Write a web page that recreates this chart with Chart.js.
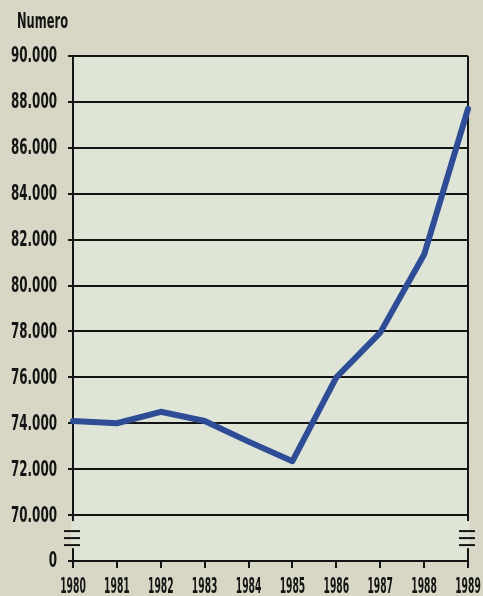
<!DOCTYPE html>
<html>
<head>
<meta charset="utf-8">
<script src="https://cdn.jsdelivr.net/npm/chart.js@4"></script>
<style>
  html, body { margin: 0; padding: 0; background: #d8d7c6; }
  #wrap { position: relative; width: 483px; height: 596px; }
</style>
</head>
<body>
<div id="wrap"><canvas id="chart"></canvas></div>
<script>
const years = ["1980", "1981", "1982", "1983", "1984", "1985", "1986", "1987", "1988", "1989"];
const values = [74100, 74000, 74500, 74100, 73200, 72350, 76000, 77950, 81350, 87700];
const yTicks = [68000, 70000, 72000, 74000, 76000, 78000, 80000, 82000, 84000, 86000, 88000, 90000];
const yTitle = "Numero";

const PLOT_BG = "#dee5d6";
const INK = "#141414";
const FONT = "bold 21px 'DejaVu Sans Condensed', 'Liberation Sans', sans-serif";

function fmt(v) {
  if (v === yTicks[0]) return "0";
  const k = Math.floor(v / 1000);
  return k + "." + String(v % 1000).padStart(3, "0");
}

// squeeze text horizontally so it looks like the narrow print face
function narrowText(ctx, text, x, y, align, squeeze) {
  ctx.save();
  ctx.translate(x, y);
  ctx.scale(squeeze, 1);
  ctx.textAlign = align;
  ctx.fillText(text, 0, 0);
  ctx.restore();
}

const plotBg = {
  id: "plotBg",
  beforeDraw(chart) {
    const { ctx, chartArea: a } = chart;
    ctx.save();
    ctx.fillStyle = PLOT_BG;
    ctx.fillRect(a.left, a.top, a.right - a.left, a.bottom - a.top);
    ctx.restore();
  },
};

const extras = {
  id: "extras",
  afterDraw(chart) {
    const { ctx, chartArea: a } = chart;
    const xs = chart.scales.x;
    const ys = chart.scales.y;
    ctx.save();
    ctx.fillStyle = INK;
    ctx.font = FONT;

    // squeeze factors from measured widths
    const sqTitle = 51 / ctx.measureText(yTitle).width;
    const sqY = 46 / ctx.measureText("90.000").width;
    const sqX = 25.6 / ctx.measureText("1980").width;

    ctx.textBaseline = "alphabetic";
    narrowText(ctx, yTitle, 17, 28, "left", sqTitle);

    ctx.textBaseline = "middle";
    yTicks.forEach((v) => {
      narrowText(ctx, fmt(v), a.left - 16, ys.getPixelForValue(v) + 1, "right", sqY);
    });
    years.forEach((y, i) => {
      narrowText(ctx, y, xs.getPixelForValue(i), a.bottom + 27, "center", sqX);
    });

    // axis breaks
    const y70 = ys.getPixelForValue(yTicks[1]);
    [a.left, a.right].forEach((x) => {
      ctx.fillStyle = PLOT_BG;
      ctx.fillRect(x - 2, y70 + 6, 4, 27);
      ctx.strokeStyle = INK;
      ctx.lineWidth = 2;
      [16, 23, 30].forEach((d) => {
        ctx.beginPath();
        ctx.moveTo(x - 9, y70 + d);
        ctx.lineTo(x + 7, y70 + d);
        ctx.stroke();
      });
    });
    ctx.restore();
  },
};

new Chart(document.getElementById("chart"), {
  type: "line",
  data: {
    labels: years,
    datasets: [
      {
        data: values,
        borderColor: "#2f4c96",
        borderWidth: 6,
        pointRadius: 0,
        tension: 0,
        borderJoinStyle: "round",
        borderCapStyle: "round",
      },
    ],
  },
  options: {
    responsive: true,
    maintainAspectRatio: false,
    animation: false,
    layout: { padding: { top: 56, right: 15, bottom: 0, left: 0 } },
    plugins: { legend: { display: false }, tooltip: { enabled: false } },
    scales: {
      x: {
        offset: false,
        grid: {
          color: (c) => (c.index === years.length - 1 ? INK : "rgba(0,0,0,0)"),
          tickColor: INK,
          lineWidth: 2,
          tickLength: 7,
        },
        border: { color: INK, width: 2 },
        ticks: { display: false },
        afterFit(s) { s.height = 35; },
      },
      y: {
        min: yTicks[0],
        max: yTicks[yTicks.length - 1],
        afterBuildTicks(s) { s.ticks = yTicks.map((v) => ({ value: v })); },
        grid: { color: INK, tickColor: INK, lineWidth: 2, tickLength: 5 },
        border: { color: INK, width: 2 },
        ticks: { display: false },
        afterFit(s) { s.width = 73; },
      },
    },
  },
  plugins: [plotBg, extras],
});
</script>
</body>
</html>
